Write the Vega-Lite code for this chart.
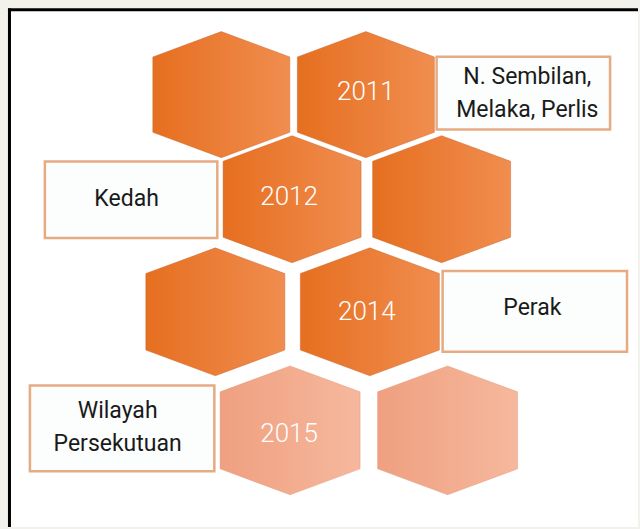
{
  "$schema": "https://vega.github.io/schema/vega-lite/v6.json",
  "autosize": {"type": "fit", "contains": "padding"},
  "width": 640,
  "height": 529,
  "padding": 0,
  "background": "#f3f1eb",
  "config": {"view": {"stroke": null}},
  "datasets": {
    "panel": [{"x": 9, "x2": 640, "y": 10, "y2": 529}],
    "frame": [
      {"x": 9.5, "x2": 9.5, "y": 8.5, "y2": 529},
      {"x": 8, "x2": 640, "y": 9.7, "y2": 9.7}
    ],
    "hexes": [
      {"id": "A", "x": 222, "y": 95, "row": 1, "tone": "dark"},
      {"id": "B", "x": 367, "y": 95, "row": 1, "tone": "dark"},
      {"id": "C", "x": 293, "y": 200, "row": 2, "tone": "dark"},
      {"id": "D", "x": 443, "y": 200, "row": 2, "tone": "dark"},
      {"id": "E", "x": 216, "y": 313, "row": 3, "tone": "dark"},
      {"id": "F", "x": 371, "y": 313, "row": 3, "tone": "dark"},
      {"id": "G", "x": 291, "y": 432, "row": 4, "tone": "light"},
      {"id": "H", "x": 449, "y": 432, "row": 4, "tone": "light"}
    ],
    "years": [
      {"year": "2011", "x": 367, "y": 92},
      {"year": "2012", "x": 290, "y": 198},
      {"year": "2014", "x": 368, "y": 313},
      {"year": "2015", "x": 290, "y": 436}
    ],
    "boxes": [
      {"label": "N. Sembilan,\nMelaka, Perlis", "x": 438, "x2": 612, "y": 57, "y2": 130, "tx": 529, "ty": 77},
      {"label": "Kedah", "x": 45, "x2": 218, "y": 162, "y2": 239, "tx": 127, "ty": 200},
      {"label": "Perak", "x": 444, "x2": 629, "y": 272, "y2": 353, "tx": 534, "ty": 309},
      {"label": "Wilayah\nPersekutuan", "x": 30, "x2": 215, "y": 387, "y2": 473, "tx": 118, "ty": 413}
    ]
  },
  "layer": [
    {
      "data": {"name": "panel"},
      "mark": {"type": "rect", "fill": "#ffffff"},
      "encoding": {
        "x": {"field": "x", "type": "quantitative", "scale": {"domain": [0, 640], "nice": false, "zero": false}, "axis": null},
        "x2": {"field": "x2"},
        "y": {"field": "y", "type": "quantitative", "scale": {"domain": [0, 529], "nice": false, "zero": false, "reverse": true}, "axis": null},
        "y2": {"field": "y2"}
      }
    },
    {
      "data": {"name": "hexes"},
      "transform": [{"filter": "datum.tone === 'dark'"}],
      "mark": {
        "type": "point",
        "filled": true,
        "opacity": 1,
        "shape": "M0,-0.92L1,-0.55L1,0.55L0,0.92L-1,0.55L-1,-0.55Z",
        "fill": {"gradient": "linear", "x1": 0, "y1": 0, "x2": 1, "y2": 0, "stops": [{"offset": 0, "color": "#e66f20"}, {"offset": 1, "color": "#f08d4f"}]},
        "stroke": "#c8642a",
        "strokeWidth": 1,
        "strokeOpacity": 0.45
      },
      "encoding": {
        "x": {"field": "x", "type": "quantitative", "axis": null},
        "y": {"field": "y", "type": "quantitative", "axis": null},
        "size": {"field": "row", "type": "ordinal", "scale": {"domain": [1, 2, 3, 4], "range": [18769, 19600, 21316, 21904]}, "legend": null}
      }
    },
    {
      "data": {"name": "hexes"},
      "transform": [{"filter": "datum.tone === 'light'"}],
      "mark": {
        "type": "point",
        "filled": true,
        "opacity": 1,
        "shape": "M0,-0.92L1,-0.55L1,0.55L0,0.92L-1,0.55L-1,-0.55Z",
        "fill": {"gradient": "linear", "x1": 0, "y1": 0, "x2": 1, "y2": 0, "stops": [{"offset": 0, "color": "#efa080"}, {"offset": 1, "color": "#f6b89d"}]},
        "stroke": "#e09270",
        "strokeWidth": 1,
        "strokeOpacity": 0.4
      },
      "encoding": {
        "x": {"field": "x", "type": "quantitative", "axis": null},
        "y": {"field": "y", "type": "quantitative", "axis": null},
        "size": {"field": "row", "type": "ordinal", "legend": null}
      }
    },
    {
      "data": {"name": "years"},
      "mark": {"type": "text", "color": "#ffffff", "font": "Roboto", "fontWeight": 300, "fontSize": 26, "align": "center", "baseline": "middle"},
      "encoding": {
        "x": {"field": "x", "type": "quantitative", "axis": null},
        "y": {"field": "y", "type": "quantitative", "axis": null},
        "text": {"field": "year"}
      }
    },
    {
      "data": {"name": "boxes"},
      "mark": {"type": "rect", "fill": "#fcfdfd", "stroke": "#e6ab82", "strokeWidth": 2.5},
      "encoding": {
        "x": {"field": "x", "type": "quantitative", "axis": null},
        "x2": {"field": "x2"},
        "y": {"field": "y", "type": "quantitative", "axis": null},
        "y2": {"field": "y2"}
      }
    },
    {
      "data": {"name": "boxes"},
      "mark": {"type": "text", "color": "#1a1a1a", "font": "Roboto", "fontWeight": 400, "fontSize": 23, "align": "center", "baseline": "middle", "lineBreak": "\n", "lineHeight": 33},
      "encoding": {
        "x": {"field": "tx", "type": "quantitative", "axis": null},
        "y": {"field": "ty", "type": "quantitative", "axis": null},
        "text": {"field": "label"}
      }
    },
    {
      "data": {"name": "frame"},
      "mark": {"type": "rule", "color": "#000000", "strokeWidth": 3},
      "encoding": {
        "x": {"field": "x", "type": "quantitative", "axis": null},
        "x2": {"field": "x2"},
        "y": {"field": "y", "type": "quantitative", "axis": null},
        "y2": {"field": "y2"}
      }
    }
  ]
}
